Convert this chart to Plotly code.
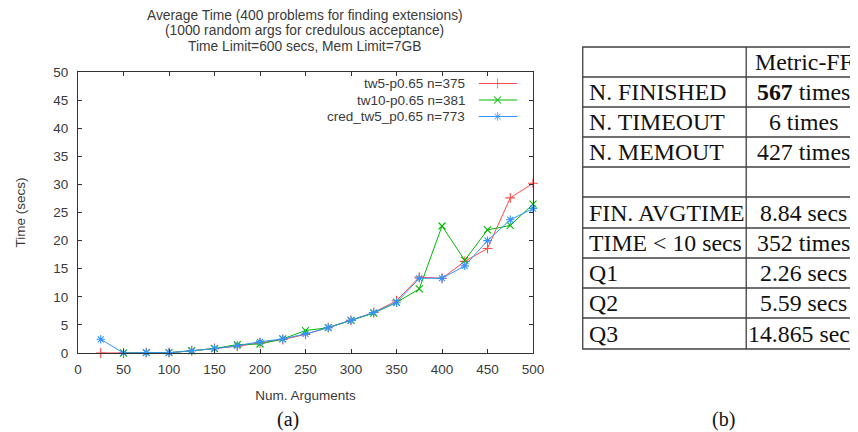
import plotly.graph_objects as go

# ---------------- data ----------------
num_args = [25, 50, 75, 100, 125, 150, 175, 200, 225, 250, 275, 300, 325, 350, 375, 400, 425, 450, 475, 500]
tw5_time = [0, 0, 0.05, 0.05, 0.4, 0.8, 1.2, 1.8, 2.4, 3.3, 4.5, 5.8, 7.2, 9.3, 13.5, 13.3, 16.3, 18.6, 27.6, 30.2]
tw10_args = [50, 75, 100, 125, 150, 175, 200, 225, 250, 275, 300, 325, 350, 375, 400, 425, 450, 475, 500]
tw10_time = [0, 0.05, 0.05, 0.4, 0.8, 1.5, 1.6, 2.5, 4.0, 4.5, 5.8, 7.1, 9.0, 11.4, 22.6, 16.5, 21.9, 22.7, 26.5]
cred_time = [2.44, 0, 0.05, 0.05, 0.4, 0.77, 1.3, 2.0, 2.5, 3.4, 4.5, 5.8, 7.2, 8.95, 13.3, 13.3, 15.5, 20.0, 23.7, 25.7]

series_names = ["tw5-p0.65 n=375", "tw10-p0.65 n=381", "cred_tw5_p0.65 n=773"]
series_colors = ["#ff4a4a", "#00b800", "#3393ff"]
series_symbols = ["cross-thin", "x-thin", "asterisk"]

x_ticks = [0, 50, 100, 150, 200, 250, 300, 350, 400, 450, 500]
y_ticks = [0, 5, 10, 15, 20, 25, 30, 35, 40, 45, 50]

table_header = ["", "Metric-FF"]
table_labels = ["N. FINISHED", "N. TIMEOUT", "N. MEMOUT", "", "FIN. AVGTIME",
                "TIME &lt; 10 secs", "Q1", "Q2", "Q3"]
table_values = ["<b>567</b> times", "6 times", "427 times", "", "8.84 secs",
                "352 times", "2.26 secs", "5.59 secs", "14.865 secs"]

title_lines = ["Average Time (400 problems for finding extensions)",
               "(1000 random args for credulous acceptance)",
               "Time Limit=600 secs, Mem Limit=7GB"]

# ---------------- geometry (window pixels; page body has an 8px margin) ----------------
OFF = 8
W, H = 858 - OFF, 432 - OFF
PL, PR, PT, PB = 71, 533, 72, 353
pw, ph = PR - PL, PB - PT


def px(x):
    return (x - PL) / pw


def py(y):
    return (PB - y) / ph


SANS = "Liberation Sans, Arial, sans-serif"
SERIF = "Liberation Serif, Times New Roman, serif"
TXT = "#3a3a3a"

fig = go.Figure()

xs = [num_args, tw10_args, num_args]
ys = [tw5_time, tw10_time, cred_time]
for name, xv, yv, col, sym in zip(series_names, xs, ys, series_colors, series_symbols):
    fig.add_trace(go.Scatter(
        x=xv, y=yv, mode="lines+markers", name=name, showlegend=False,
        line=dict(color=col, width=1),
        marker=dict(symbol=sym, size=7, color=col, line=dict(color=col, width=1.1)),
        cliponaxis=False,
    ))

# custom legend (text on the left, sample on the right) drawn on a hidden overlay axis
leg_rows_y = [83.5, 100, 116.5]
for name, col, sym, yy in zip(series_names, series_colors, series_symbols, leg_rows_y):
    fig.add_trace(go.Scatter(
        x=[px(478), px(497), px(517)], y=[py(yy)] * 3, xaxis="x2", yaxis="y2",
        mode="lines+markers", showlegend=False, hoverinfo="skip",
        line=dict(color=col, width=1),
        marker=dict(symbol=sym, size=[0, 7, 0], color=col, line=dict(color=col, width=1.1)),
    ))
    fig.add_annotation(xref="paper", yref="paper", x=px(466), y=py(yy), text=name,
                       showarrow=False, xanchor="right", yanchor="middle",
                       font=dict(family=SANS, size=13.5, color=TXT))

# title lines
for line, ty in zip(title_lines, [15, 31, 47]):
    fig.add_annotation(xref="paper", yref="paper", x=px(301), y=py(ty), text=line,
                       showarrow=False, xanchor="center", yanchor="middle",
                       font=dict(family=SANS, size=13.8, color=TXT))

axis_common = dict(showline=True, linecolor="#333333", linewidth=1, mirror="ticks",
                   ticks="inside", ticklen=4, tickwidth=1, tickcolor="#333333",
                   showgrid=False, zeroline=False,
                   tickfont=dict(family=SANS, size=13.5, color=TXT))

fig.update_layout(
    width=W, height=H,
    margin=dict(l=PL - OFF, r=W - (PR - OFF), t=PT - OFF, b=H - (PB - OFF), pad=0),
    paper_bgcolor="white", plot_bgcolor="white",
    showlegend=False,
    xaxis=dict(range=[0, 500], tickvals=x_ticks, ticklabelstandoff=4, **axis_common,
               title=dict(text="Num. Arguments", standoff=14,
                          font=dict(family=SANS, size=13.5, color=TXT))),
    yaxis=dict(range=[0, 50], tickvals=y_ticks, ticklabelstandoff=6, **axis_common,
               title=dict(text="Time (secs)", standoff=24,
                          font=dict(family=SANS, size=13.5, color=TXT))),
    xaxis2=dict(overlaying="x", anchor="y2", range=[0, 1], visible=False, fixedrange=True),
    yaxis2=dict(overlaying="y", anchor="x2", range=[0, 1], visible=False, fixedrange=True),
)

# ---------------- table (b) ----------------
TL, TD, TR = 583.5, 749.5, 866
row_edges = [47, 77, 107, 137, 167, 197, 228, 258, 288, 318, 349]
LC = "#404040"
fig.add_shape(type="rect", xref="paper", yref="paper",
              x0=px(TL), x1=px(TR), y0=py(row_edges[0]), y1=py(row_edges[-1]),
              line=dict(color=LC, width=1.3), fillcolor="rgba(0,0,0,0)")
fig.add_shape(type="line", xref="paper", yref="paper",
              x0=px(TD), x1=px(TD), y0=py(row_edges[0]), y1=py(row_edges[-1]),
              line=dict(color=LC, width=1.3))
for ye in row_edges[1:-1]:
    fig.add_shape(type="line", xref="paper", yref="paper",
                  x0=px(TL), x1=px(TR), y0=py(ye), y1=py(ye),
                  line=dict(color=LC, width=1.3))

labels_all = [table_header[0]] + table_labels
values_all = [table_header[1]] + table_values
for i, (lab, val) in enumerate(zip(labels_all, values_all)):
    yc = (row_edges[i] + row_edges[i + 1]) / 2
    if lab:
        fig.add_annotation(xref="paper", yref="paper", x=px(TL + 4), y=py(yc), text=lab,
                           showarrow=False, xanchor="left", yanchor="middle",
                           font=dict(family=SERIF, size=23.8, color="#111111"))
    if val:
        fig.add_annotation(xref="paper", yref="paper", x=px(808), y=py(yc), text=val,
                           showarrow=False, xanchor="center", yanchor="middle",
                           font=dict(family=SERIF, size=23.8, color="#111111"))

# captions
for cap, cx in [("(a)", 284), ("(b)", 726)]:
    fig.add_annotation(xref="paper", yref="paper", x=px(cx), y=py(419), text=cap,
                       showarrow=False, xanchor="center", yanchor="middle",
                       font=dict(family=SERIF, size=20, color="#111111"))

fig.write_html("out.html")
